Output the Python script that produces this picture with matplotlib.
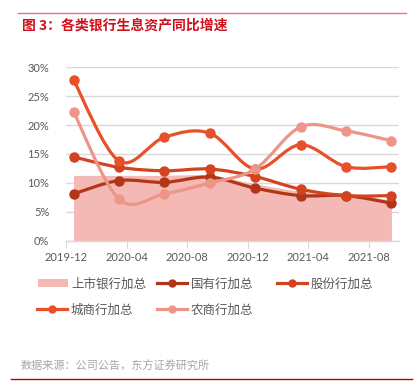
import matplotlib
matplotlib.use("Agg")
import matplotlib.pyplot as plt
from matplotlib.path import Path
from matplotlib.patches import PathPatch, Patch
from matplotlib.lines import Line2D
import numpy as np

plt.rcParams['font.family'] = ['Noto Sans CJK SC', 'DejaVu Sans']

periods = ['2019-12', '2020-03', '2020-06', '2020-09', '2020-12', '2021-03', '2021-06', '2021-09']
listed_total = [11.3, 11.3, 11.3, 11.5, 9.8, 8.5, 8.3, 7.0]
state_owned = [8.1, 10.4, 10.1, 11.0, 9.1, 7.8, 7.8, 6.5]
joint_stock = [14.5, 12.7, 12.1, 12.4, 11.1, 8.9, 7.8, 7.8]
city_comm = [27.8, 13.8, 17.9, 18.6, 12.4, 16.6, 12.8, 12.8]
rural_comm = [22.3, 7.2, 8.1, 10.0, 12.4, 19.7, 19.0, 17.3]
tick_labels = ['2019-12', '2020-04', '2020-08', '2020-12', '2021-04', '2021-08']
y_ticks = [0, 5, 10, 15, 20, 25, 30]

names = ['上市银行加总', '国有行加总', '股份行加总', '城商行加总', '农商行加总']
colors = ['#F4B9B4', '#B23518', '#D3431F', '#E8502A', '#EE958A']


def month_index(s):
    y, m = s.split('-')
    return (int(y) - 2019) * 12 + int(m) - 12


x = np.array([month_index(p) + 0.5 for p in periods])
tick_pos = [month_index(t) for t in tick_labels]

fig = plt.figure(figsize=(4.18, 3.87), dpi=100)
ax = fig.add_axes([66 / 418, 1 - 240.7 / 387, (399 - 66) / 418, (240.7 - 67.3) / 387])

ax.fill_between(x, 0, listed_total, color=colors[0], linewidth=0, zorder=1)


def smooth_path(xs, ys):
    pts = np.column_stack([xs, ys])
    verts = [pts[0]]
    codes = [Path.MOVETO]
    n = len(pts)
    for i in range(n - 1):
        p0 = pts[i - 1] if i > 0 else pts[i]
        p1 = pts[i]
        p2 = pts[i + 1]
        p3 = pts[i + 2] if i + 2 < n else pts[i + 1]
        c1 = p1 + (p2 - p0) / 6
        c2 = p2 - (p3 - p1) / 6
        verts += [c1, c2, p2]
        codes += [Path.CURVE4] * 3
    return Path(verts, codes)


series = [state_owned, joint_stock, city_comm, rural_comm]
for k, ys in enumerate(series):
    c = colors[k + 1]
    patch = PathPatch(smooth_path(x, ys), facecolor='none', edgecolor=c, lw=2.3,
                      zorder=3 + k, capstyle='round', joinstyle='round')
    ax.add_patch(patch)
    ax.plot(x, ys, linestyle='none', marker='o', ms=6.5, color=c, zorder=3 + k)

ax.set_xlim(0, 22)
ax.set_ylim(0, 30)
ax.set_yticks(y_ticks)
ax.set_yticklabels([f'{v}%' for v in y_ticks])
ax.set_xticks(tick_pos)
ax.set_xticklabels(tick_labels)
ax.grid(axis='y', color='#D9D9D9', lw=1)
ax.set_axisbelow(True)
for s in ['top', 'right', 'left']:
    ax.spines[s].set_visible(False)
ax.spines['bottom'].set_color('#D9D9D9')
ax.spines['bottom'].set_linewidth(1)
ax.tick_params(axis='y', length=0, pad=12, labelsize=8, labelcolor='#595959')
ax.tick_params(axis='x', length=5, color='#D9D9D9', pad=3, labelsize=8, labelcolor='#595959')
for lab in ax.get_xticklabels() + ax.get_yticklabels():
    lab.set_family(['Lato', 'DejaVu Sans'])

handles = [Patch(facecolor=colors[0], edgecolor='none')]
for k in range(4):
    handles.append(Line2D([], [], color=colors[k + 1], lw=2.3, marker='o', ms=5))

# legend entry anchor positions in pixels (left x, center y)
legend_pos = [(38, 284), (157, 284), (277, 284), (37, 310), (157, 310)]
for h, name, (px, py) in zip(handles, names, legend_pos):
    leg = fig.legend([h], [name], loc='center left', bbox_to_anchor=(px / 418, 1 - py / 387),
                     frameon=False, fontsize=9, labelcolor='#595959',
                     handlelength=2.4, handleheight=0.6, handletextpad=0.3,
                     borderaxespad=0, borderpad=0)

fig.add_artist(Line2D([18 / 418, 406 / 418], [1 - 13 / 387] * 2, color='#E07A7A', lw=1))
fig.add_artist(Line2D([11 / 418, 412 / 418], [1 - 379 / 387] * 2, color='#C00000', lw=1))
fig.text(22 / 418, 1 - 26 / 387, '图 3：各类银行生息资产同比增速', color='#D0101B',
         fontsize=10, fontweight='bold', va='center', ha='left')
fig.text(21 / 418, 1 - 366 / 387, '数据来源：公司公告，东方证券研究所', color='#A6A6A6',
         fontsize=8, va='center', ha='left')

fig.savefig('out.png', dpi=100)
